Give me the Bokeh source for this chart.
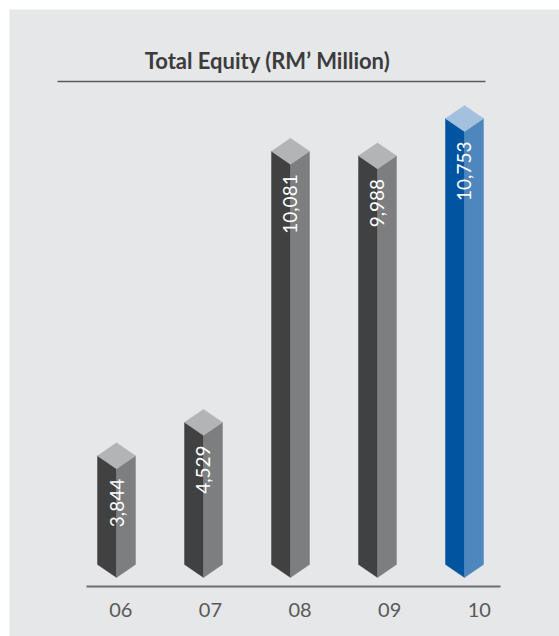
from bokeh.plotting import figure
from bokeh.models import Range1d
from bokeh.core.properties import value
from bokeh.embed import file_html
from bokeh.resources import INLINE

# ---- data ----
years = ["06", "07", "08", "09", "10"]
equity = [3844, 4529, 10081, 9988, 10753]
value_labels = ["3,844", "4,529", "10,081", "9,988", "10,753"]
title_text = "Total Equity (RM\u2019 Million)"

# ---- styling ----
BG = "#e6e7e8"
GREY_FACES = ("#414142", "#7d7e80", "#b3b4b6")
BLUE_FACES = ("#0054a0", "#4d87bd", "#a3c0de")
highlight = [False, False, False, False, True]

W = 0.218     # half bar width (x units)
D = 266       # isometric drop of the top/bottom diamond (y units)
BASE = 1086   # bottom apex of the bars (y units)

p = figure(width=559, height=636, output_backend="svg", toolbar_location=None,
           x_range=Range1d(-1.2299, 5.0920), y_range=Range1d(-123, 12720),
           min_border_left=9, min_border_top=9, min_border_right=0, min_border_bottom=0,
           background_fill_color=BG, border_fill_color="white")
p.outline_line_color = None
p.axis.visible = False
p.grid.visible = False

idx = list(range(len(years)))

left_xs, left_ys, right_xs, right_ys, top_xs, top_ys = [], [], [], [], [], []
lc, rc, tc = [], [], []
for i, v in zip(idx, equity):
    left_xs.append([i - W, i, i, i - W])
    left_ys.append([v - D, v - 2 * D, BASE, BASE + D])
    right_xs.append([i, i + W, i + W, i])
    right_ys.append([v - 2 * D, v - D, BASE + D, BASE])
    top_xs.append([i - W, i, i + W, i])
    top_ys.append([v - D, v, v - D, v - 2 * D])
    faces = BLUE_FACES if highlight[i] else GREY_FACES
    lc.append(faces[0]); rc.append(faces[1]); tc.append(faces[2])

p.patches(left_xs, left_ys, fill_color=lc, line_color=lc, line_width=0.5)
p.patches(right_xs, right_ys, fill_color=rc, line_color=rc, line_width=0.5)
p.patches(top_xs, top_ys, fill_color=tc, line_color=tc, line_width=0.5)

# value labels (rotated, inside bars)
p.text(x=idx, y=[v - 2 * D - 205 for v in equity], text=value_labels,
       angle=1.5708, text_align="right", text_baseline="middle",
       text_color="white", text_font=value("Lato"), text_font_size="19px")

# baseline
p.segment(x0=[-0.345], y0=[901], x1=[4.414], y1=[901], line_color="#6d6e70", line_width=2)

# category labels
p.text(x=[i * 1.03 + 0.05 for i in idx], y=[430] * len(idx), text=years,
       text_align="center", text_baseline="middle", text_color="#58595b",
       text_font=value("Lato"), text_font_size="20px")

# title and underline
p.text(x=[1.736], y=[11676], text=[title_text], text_align="center", text_baseline="middle",
       text_color="#3c3c3c", text_font=value("Lato"), text_font_style="bold",
       text_font_size="22px")
p.segment(x0=[-0.678], y0=[11246], x1=[4.241], y1=[11246], line_color="#5a5b5d", line_width=1.5)

open("out.html", "w").write(file_html(p, INLINE))
